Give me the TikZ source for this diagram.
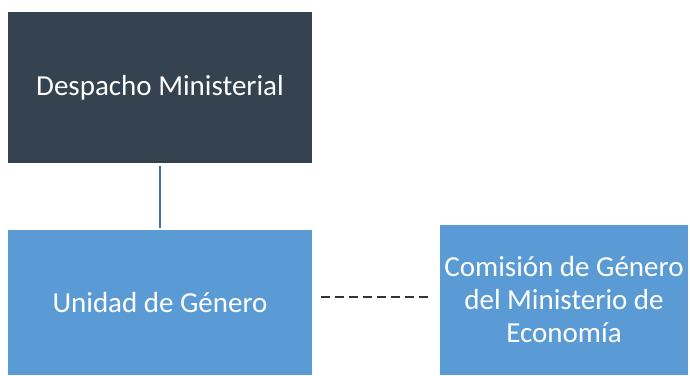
\documentclass[tikz,border=0pt]{standalone}
\usepackage{fontspec}
\setmainfont{Carlito}
\definecolor{despacho}{HTML}{35424F}
\definecolor{unidad}{HTML}{5B9BD5}
\definecolor{enlace}{HTML}{41719C}
\begin{document}
\begin{tikzpicture}[x=1pt,y=-1pt,
		caja/.style={inner sep=0pt,outer sep=0pt,text=white,align=center,
			font=\fontsize{29}{33}\selectfont},
		oscura/.style={caja,fill=despacho,minimum width=304pt,minimum height=151pt},
		clara/.style={caja,fill=unidad}]
		\useasboundingbox (0,0) rectangle (690,375);
		\node[oscura] (despacho) at (160,87.5) {Despacho Ministerial};
		\node[clara,minimum width=304pt,minimum height=145pt] (unidad) at (160,302.5) {Unidad de Género};
		\node[clara,minimum width=248pt,minimum height=150pt] (comision) at (564,300) {Comisión de Género\\del Ministerio de\\Economía};
		\draw[enlace,line width=1.5pt,shorten <=3pt,shorten >=2pt] (despacho.south) -- (unidad.north);
		\draw[black!80,dash pattern=on 9pt off 5pt,line width=1.2pt]
			([xshift=9pt,yshift=5.5pt]unidad.east) -- ([xshift=-8pt,yshift=3pt]comision.west);
	\end{tikzpicture}
\end{document}
